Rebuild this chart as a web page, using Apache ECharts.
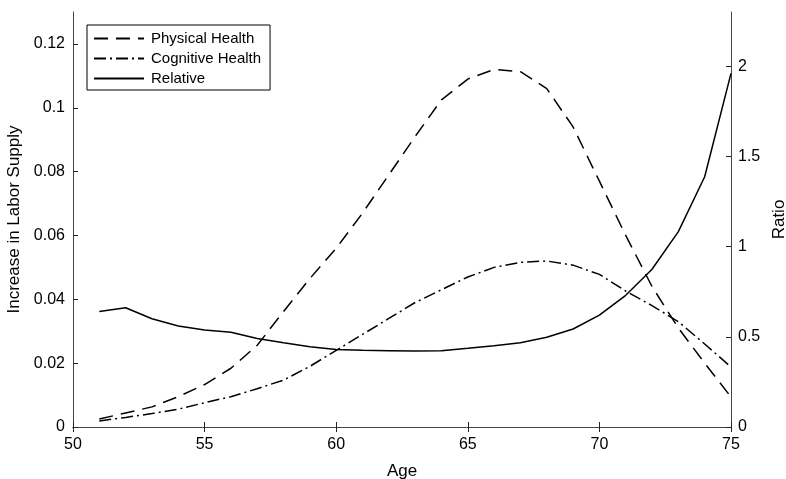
<!DOCTYPE html>
<html>
<head>
<meta charset="utf-8">
<script src="https://cdn.jsdelivr.net/npm/echarts@6/dist/echarts.min.js"></script>
<style>
html,body{margin:0;padding:0;background:#fff;overflow:hidden;}
#chart{width:786px;height:479px;}
</style>
</head>
<body>
<div id="chart"></div>
<script>
var ages = [51,52,53,54,55,56,57,58,59,60,61,62,63,64,65,66,67,68,69,70,71,72,73,74,75];
var physicalHealth = [0.0025,0.0044,0.0063,0.0095,0.0133,0.0184,0.0256,0.0362,0.0465,0.056,0.067,0.079,0.091,0.1025,0.109,0.112,0.1113,0.106,0.094,0.077,0.060,0.044,0.031,0.020,0.0094];
var cognitiveHealth = [0.0019,0.0030,0.0042,0.0056,0.0076,0.0095,0.012,0.0147,0.019,0.024,0.029,0.034,0.039,0.043,0.047,0.050,0.0516,0.052,0.0507,0.0478,0.0426,0.038,0.033,0.026,0.0188];
var relative = [0.64,0.661,0.60,0.56,0.537,0.525,0.49,0.467,0.445,0.43,0.425,0.423,0.421,0.423,0.436,0.45,0.467,0.497,0.543,0.62,0.73,0.874,1.083,1.387,1.96];
var seriesNames = ['Physical Health','Cognitive Health','Relative'];
var xTicks = [50,55,60,65,70,75];
var leftTicks = [0,0.02,0.04,0.06,0.08,0.1,0.12];
var rightTicks = [0,0.5,1,1.5,2];

function pairs(vals){ return ages.map(function(a,i){ return [a, vals[i]]; }); }

var FONT = 'Liberation Sans, Arial, Helvetica, sans-serif';
var axisLineStyle = {color:'#444', width:1};
var tickStyle = {color:'#222', width:1};

var chart = echarts.init(document.getElementById('chart'), null, {renderer:'canvas'});
chart.setOption({
  animation:false,
  backgroundColor:'#fff',
  textStyle:{fontFamily:FONT},
  grid:{left:73, right:55, top:12, bottom:52, containLabel:false, outerBoundsMode:'none'},
  legend:{
    data:seriesNames,
    orient:'vertical', left:87, top:25,
    itemWidth:50, itemHeight:14, itemGap:5,
    borderColor:'#000', borderWidth:1, backgroundColor:'#fff',
    padding:[6,9,4,6],
    itemStyle:{opacity:0, borderWidth:0},
    textStyle:{fontSize:15, color:'#000', fontFamily:FONT, padding:[0,0,0,2]},
    selectedMode:false
  },
  xAxis:[{
    type:'value', position:'bottom', min:xTicks[0], max:xTicks[xTicks.length-1], interval:5,
    name:'Age', nameLocation:'middle', nameGap:36,
    nameTextStyle:{fontSize:17, color:'#000', fontFamily:FONT},
    axisLine:{show:true, lineStyle:axisLineStyle},
    axisTick:{show:true, inside:true, length:5, lineStyle:tickStyle},
    axisLabel:{fontSize:16, color:'#000', margin:10, fontFamily:FONT},
    splitLine:{show:false}
  },{
    type:'value', position:'top', min:xTicks[0], max:xTicks[xTicks.length-1], interval:5,
    axisLine:{show:true, lineStyle:axisLineStyle},
    axisTick:{show:true, inside:true, length:5, lineStyle:tickStyle},
    axisLabel:{show:false},
    splitLine:{show:false}
  }],
  yAxis:[{
    type:'value', position:'left', min:0, max:0.13, interval:0.02,
    name:'Increase in Labor Supply', nameLocation:'middle', nameGap:46, nameRotate:90,
    nameTextStyle:{fontSize:17, color:'#000', fontFamily:FONT},
    axisLine:{show:true, lineStyle:axisLineStyle},
    axisTick:{show:true, inside:true, length:5, lineStyle:tickStyle},
    axisLabel:{fontSize:16, color:'#000', margin:8, showMaxLabel:false, fontFamily:FONT,
      formatter:function(v){ return String(Math.round(v*100)/100); }},
    splitLine:{show:false}
  },{
    type:'value', position:'right', min:0, max:2.3, interval:0.5,
    name:'Ratio', nameLocation:'middle', nameGap:39, nameRotate:90,
    nameTextStyle:{fontSize:17, color:'#000', fontFamily:FONT},
    axisLine:{show:true, lineStyle:axisLineStyle},
    axisTick:{show:true, inside:true, length:5, lineStyle:tickStyle},
    axisLabel:{fontSize:16, color:'#000', margin:7, showMaxLabel:false, fontFamily:FONT,
      formatter:function(v){ return String(v); }},
    splitLine:{show:false}
  }],
  series:[{
    name:seriesNames[0], type:'line', xAxisIndex:0, yAxisIndex:0, data:pairs(physicalHealth),
    symbol:'none', smooth:false, silent:true,
    lineStyle:{color:'#000', width:1.5, type:[14,8]},
    itemStyle:{color:'#000'}
  },{
    name:seriesNames[1], type:'line', xAxisIndex:0, yAxisIndex:0, data:pairs(cognitiveHealth),
    symbol:'none', smooth:false, silent:true,
    lineStyle:{color:'#000', width:1.5, type:[12,4,2,4]},
    itemStyle:{color:'#000'}
  },{
    name:seriesNames[2], type:'line', xAxisIndex:0, yAxisIndex:1, data:pairs(relative),
    symbol:'none', smooth:false, silent:true,
    lineStyle:{color:'#000', width:1.5, type:'solid'},
    itemStyle:{color:'#000'}
  }]
});
</script>
</body>
</html>
